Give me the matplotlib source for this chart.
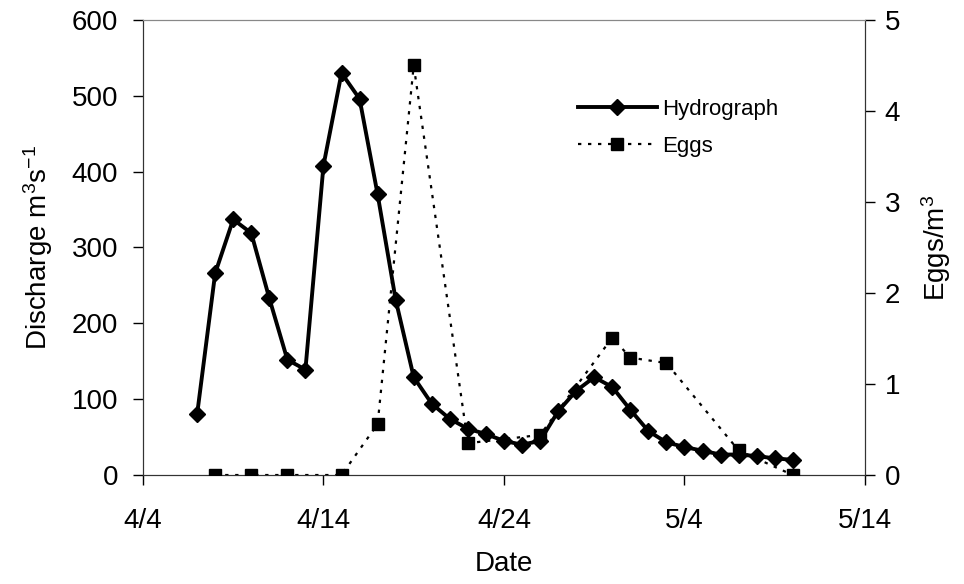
import datetime as dt
import numpy as np
import matplotlib.pyplot as plt
import matplotlib.dates as mdates
from matplotlib.ticker import FuncFormatter

plt.rcParams['font.family'] = ['Liberation Sans', 'DejaVu Sans']
plt.rcParams['mathtext.fontset'] = 'custom'
plt.rcParams['mathtext.rm'] = 'Liberation Sans'
plt.rcParams['mathtext.it'] = 'Liberation Sans'

# hydrograph, daily 4/7 .. 5/10
hydro_start = dt.date(2000, 4, 7)
discharge = [80, 266, 337, 319, 233, 152, 139, 408, 530, 496, 370, 231, 129, 94,
             74, 61, 54, 45, 40, 45, 84, 111, 129, 116, 86, 58, 43, 37, 32, 27,
             27, 25, 22, 20]
hydro_dates = [hydro_start + dt.timedelta(days=i) for i in range(len(discharge))]

# egg samples
egg_days = ['4/8', '4/10', '4/12', '4/15', '4/17', '4/19', '4/22', '4/26',
            '4/30', '5/1', '5/3', '5/7', '5/10']
eggs = [0, 0, 0, 0, 0.56, 4.5, 0.35, 0.44, 1.51, 1.29, 1.23, 0.27, 0]

def to_date(s):
    m, d = s.split('/')
    return dt.date(2000, int(m), int(d))

egg_dates = [to_date(s) for s in egg_days]

xticks = ['4/4', '4/14', '4/24', '5/4', '5/14']
tick_dates = [to_date(s) for s in xticks]

fig = plt.figure(figsize=(9.64, 5.84), dpi=100)
ax = fig.add_axes([0.1483, 0.1866, 0.7490, 0.7792])
ax2 = ax.twinx()

l1, = ax.plot(hydro_dates, discharge, color='black', lw=2.8, marker='D', ms=8,
              label='Hydrograph', zorder=3)
l2, = ax2.plot(egg_dates, eggs, color='black', lw=1.6, ls=(0, (1.5, 3)), marker='s',
               ms=9, label='Eggs', zorder=3)

ax.set_xlim(tick_dates[0], tick_dates[-1])
ax.set_xticks(tick_dates)
ax.xaxis.set_major_formatter(FuncFormatter(lambda v, p: '%d/%d' % (mdates.num2date(v).month, mdates.num2date(v).day)))
ax.set_ylim(0, 600)
ax.set_yticks(np.arange(0, 601, 100))
ax2.set_ylim(0, 5)
ax2.set_yticks(range(0, 6))

for a in (ax, ax2):
    a.tick_params(direction='out', length=7, width=1, labelsize=20)
    for s in a.spines.values():
        s.set_color('#333333')
ax.tick_params(axis='x', pad=17)
ax.tick_params(axis='y', pad=11)
ax2.tick_params(axis='y', pad=7)
ax.spines['top'].set_color('#888888')
ax2.spines['top'].set_color('#888888')

ax.set_xlabel('Date', fontsize=20, labelpad=12)
ax.set_ylabel('Discharge m$^3$s$^{-1}$', fontsize=20, labelpad=12)
ax2.set_ylabel('Eggs/m$^3$', fontsize=20, labelpad=14)

leg = ax.legend([l1, l2], ['Hydrograph', 'Eggs'], loc='upper left',
                bbox_to_anchor=(0.602, 0.826), frameon=False, fontsize=16,
                handlelength=3.55, handletextpad=0.25, labelspacing=0.7,
                borderpad=0, borderaxespad=0)

fig.savefig('out.png', dpi=100)
